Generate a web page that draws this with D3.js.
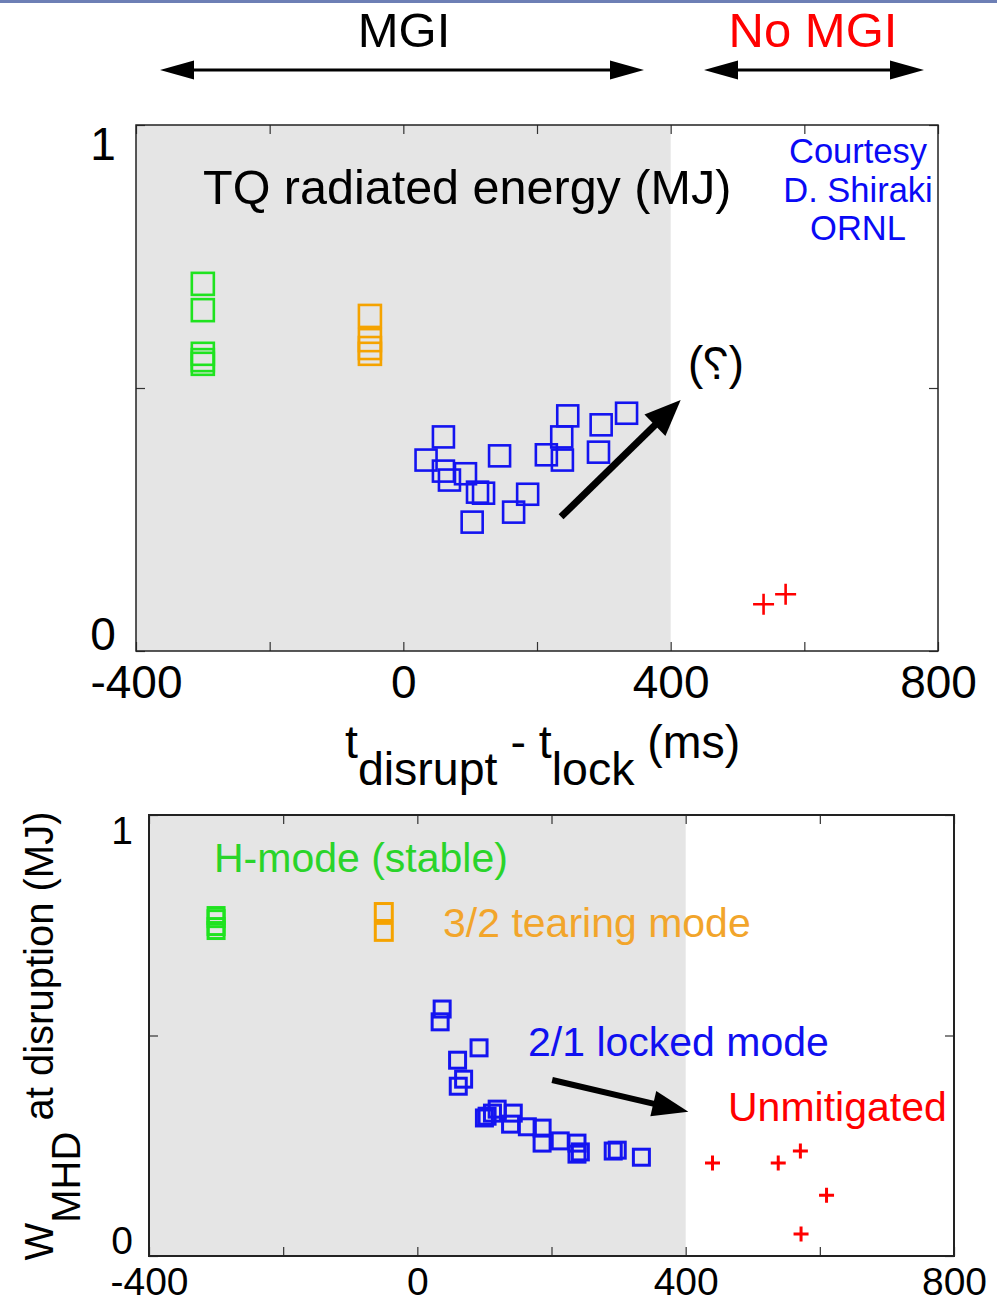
<!DOCTYPE html>
<html><head><meta charset="utf-8">
<script src="https://cdn.jsdelivr.net/npm/d3@7"></script>
<style>body{margin:0;background:#fff}</style>
</head><body>
<svg id="c" width="997" height="1303" xmlns="http://www.w3.org/2000/svg"></svg>
<script>
// ---------- data ----------
const xTicks = [-400, -200, 0, 200, 400, 600, 800];
const xTickLabels = [-400, 0, 400, 800];
const yTicks = [0, 0.5, 1];
const yTickLabels = [0, 1];

// Top panel: TQ radiated energy (MJ) vs t_disrupt - t_lock (ms)
const topHmode = [[-300,0.698],[-300,0.648],[-300,0.565],[-300,0.553],[-300,0.546]];
const topTearing = [[-50,0.637],[-50,0.591],[-50,0.576],[-50,0.565]];
const topLocked = [[60,0.407],[34,0.363],[60,0.342],[69,0.325],[93,0.337],[111,0.302],[120,0.300],
  [144,0.371],[103,0.245],[165,0.264],[186,0.298],[214,0.373],[246,0.447],[237,0.407],[238,0.363],
  [296,0.430],[292,0.378],[334,0.452]];
const topUnmit = [[539,0.089],[572,0.108]];

// Bottom panel: W_MHD at disruption (MJ)
const botHmode = [[-300,0.772],[-300,0.765],[-300,0.747],[-300,0.738]];
const botTearing = [[-50,0.780],[-50,0.735]];
const botLocked = [[37,0.560],[34,0.531],[92,0.472],[60,0.444],[69,0.401],[61,0.385],[100,0.313],
  [104,0.317],[119,0.333],[112,0.324],[143,0.324],[139,0.299],[164,0.293],[186,0.290],[186,0.256],
  [213,0.261],[238,0.256],[243,0.236],[238,0.231],[292,0.238],[298,0.240],[334,0.224]];
const botUnmit = [[440,0.211],[538,0.211],[571,0.238],[610,0.138],[572,0.050]];

// annotation arrows (data units)
const topArrow = [[236,0.255],[415,0.477]];
const botArrow = [[201,0.399],[404,0.327]];

// ---------- drawing ----------
const FONT = "'Liberation Sans', Arial, Helvetica, sans-serif";
const svg = d3.select("#c");
const BLUE = "#1414f0", GREEN = "#1fe31f", ORANGE = "#f5a300", RED = "#ff0000";

svg.append("rect").attr("x",0).attr("y",0).attr("width",997).attr("height",3).attr("fill","#6d7fb5");

function panel(o){
  const x = d3.scaleLinear().domain([-400,800]).range([o.l,o.r]);
  const y = d3.scaleLinear().domain([0,1]).range([o.b,o.t]);
  const g = svg.append("g");
  g.append("rect").attr("x",x(-400)).attr("y",y(1)).attr("width",x(400)-x(-400))
    .attr("height",y(0)-y(1)).attr("fill","#e5e5e5");
  const tk = (axis, tr) => {
    const a = g.append("g").attr("transform",tr).call(axis);
    a.select(".domain").remove();
    a.selectAll("line").attr("stroke","#333").attr("stroke-width",1.2);
  };
  tk(d3.axisBottom(x).tickValues(xTicks).tickSizeInner(-o.tick).tickSizeOuter(0).tickFormat(""), `translate(0,${o.b})`);
  tk(d3.axisTop(x).tickValues(xTicks).tickSizeInner(-o.tick).tickSizeOuter(0).tickFormat(""), `translate(0,${o.t})`);
  tk(d3.axisLeft(y).tickValues(yTicks).tickSizeInner(-o.tick).tickSizeOuter(0).tickFormat(""), `translate(${o.l},0)`);
  tk(d3.axisRight(y).tickValues(yTicks).tickSizeInner(-o.tick).tickSizeOuter(0).tickFormat(""), `translate(${o.r},0)`);
  g.append("rect").attr("x",o.l).attr("y",o.t).attr("width",o.r-o.l).attr("height",o.b-o.t)
    .attr("fill","none").attr("stroke","#222").attr("stroke-width",o.frame);
  const xl = g.append("g").attr("transform",`translate(0,${o.b})`)
    .call(d3.axisBottom(x).tickValues(xTickLabels).tickSize(0).tickPadding(o.xpad).tickFormat(d => String(d)));
  xl.select(".domain").remove();
  xl.selectAll("text").attr("font-family",FONT).attr("font-size",o.fs).attr("fill","#000");
  g.selectAll(".ylab").data(yTickLabels).join("text")
    .attr("x",o.l - o.ydx).attr("y",d => y(d) + (d===1 ? o.y1off : o.y0off))
    .attr("dy","0.36em").attr("text-anchor","middle")
    .attr("font-family",FONT).attr("font-size",o.fs).text(d => String(d));
  return {x,y,g};
}

function squares(p, data, color, size, sw){
  p.g.append("g").selectAll("rect").data(data).join("rect")
    .attr("x",d => p.x(d[0]) - size/2).attr("y",d => p.y(d[1]) - size/2)
    .attr("width",size).attr("height",size)
    .attr("fill","none").attr("stroke",color).attr("stroke-width",sw);
}
function pluses(p, data, color, size, sw){
  const gg = p.g.append("g").attr("stroke",color).attr("stroke-width",sw);
  gg.selectAll("path").data(data).join("path")
    .attr("d",d => { const cx=p.x(d[0]), cy=p.y(d[1]), h=size/2;
      return `M${cx-h},${cy}H${cx+h}M${cx},${cy-h}V${cy+h}`; });
}
function arrow(g, x1,y1,x2,y2, w, hl, hw, color){
  const ang = Math.atan2(y2-y1, x2-x1);
  const bx = x2 - hl*Math.cos(ang), by = y2 - hl*Math.sin(ang);
  g.append("line").attr("x1",x1).attr("y1",y1).attr("x2",bx+Math.cos(ang)*2).attr("y2",by+Math.sin(ang)*2)
    .attr("stroke",color).attr("stroke-width",w);
  const nx = -Math.sin(ang), ny = Math.cos(ang);
  g.append("path").attr("d",`M${x2},${y2}L${bx+nx*hw/2},${by+ny*hw/2}L${bx-nx*hw/2},${by-ny*hw/2}Z`).attr("fill",color);
}

// ---- top panel ----
const P1 = panel({l:136, r:938, t:125, b:651, tick:9, frame:1.5, fs:46, xpad:14, ydx:33, y1off:18, y0off:-18});
squares(P1, topHmode, GREEN, 22, 2.6);
squares(P1, topTearing, ORANGE, 22, 2.6);
squares(P1, topLocked, BLUE, 21, 2.6);
pluses(P1, topUnmit, RED, 21, 2.6);
arrow(P1.g, P1.x(topArrow[0][0]), P1.y(topArrow[0][1]), P1.x(topArrow[1][0]), P1.y(topArrow[1][1]), 7, 36, 30, "#000");

P1.g.append("text").attr("x",203).attr("y",204).attr("font-family",FONT).attr("font-size",48.5).text("TQ radiated energy (MJ)");
// "(?)" drawn mirrored, as in the original slide
P1.g.append("text").attr("x",0).attr("y",379).attr("text-anchor","middle").attr("transform","translate(716,0) scale(-1,1)")
  .attr("font-family",FONT).attr("font-size",46).text("(?)");
const cour = P1.g.append("text").attr("font-family",FONT).attr("font-size",34.5).attr("fill","#0a0af5").attr("text-anchor","middle");
[["Courtesy",163],["D. Shiraki",202],["ORNL",240]].forEach(([t,yy]) => cour.append("tspan").attr("x",858).attr("y",yy).text(t));

// x axis title
const xt = svg.append("text").attr("x",345).attr("y",758).attr("font-family",FONT).attr("font-size",46.5);
xt.append("tspan").text("t");
xt.append("tspan").attr("dy",27).text("disrupt");
xt.append("tspan").attr("dy",-27).text(" - t");
xt.append("tspan").attr("dy",27).text("lock");
xt.append("tspan").attr("dy",-27).text(" (ms)");

// header MGI / No MGI
svg.append("text").attr("x",404).attr("y",47).attr("text-anchor","middle").attr("font-family",FONT).attr("font-size",49).text("MGI");
svg.append("text").attr("x",813).attr("y",47).attr("text-anchor","middle").attr("font-family",FONT).attr("font-size",49).attr("fill",RED).text("No MGI");
function dbl(x1,x2,yy){
  const g = svg.append("g");
  arrow(g, (x1+x2)/2, yy, x2, yy, 3, 34, 19, "#000");
  arrow(g, (x1+x2)/2, yy, x1, yy, 3, 34, 19, "#000");
}
dbl(160,644,70);
dbl(704,924,70);

// ---- bottom panel ----
const P2 = panel({l:149, r:954, t:815, b:1256, tick:9, frame:2, fs:39, xpad:11, ydx:27, y1off:15, y0off:-16});
squares(P2, botHmode, GREEN, 16, 3);
squares(P2, botTearing, ORANGE, 17, 3);
squares(P2, botLocked, BLUE, 16, 3);
pluses(P2, botUnmit, RED, 15, 3);
arrow(P2.g, P2.x(botArrow[0][0]), P2.y(botArrow[0][1]), P2.x(botArrow[1][0]), P2.y(botArrow[1][1]), 6, 36, 26, "#000");

P2.g.append("text").attr("x",214).attr("y",872).attr("font-family",FONT).attr("font-size",41).attr("fill","#2ad42a").text("H-mode (stable)");
P2.g.append("text").attr("x",443).attr("y",937).attr("font-family",FONT).attr("font-size",41).attr("fill","#f2a52b").text("3/2 tearing mode");
P2.g.append("text").attr("x",528).attr("y",1056).attr("font-family",FONT).attr("font-size",41).attr("fill","#1010f0").text("2/1 locked mode");
P2.g.append("text").attr("x",728).attr("y",1121).attr("font-family",FONT).attr("font-size",41).attr("fill",RED).text("Unmitigated");

const yt = svg.append("text").attr("transform","translate(53,1036) rotate(-90)").attr("text-anchor","middle")
  .attr("font-family",FONT).attr("font-size",40);
yt.append("tspan").text("W");
yt.append("tspan").attr("dy",27).text("MHD");
yt.append("tspan").attr("dy",-27).text(" at disruption (MJ)");
</script>
</body></html>
